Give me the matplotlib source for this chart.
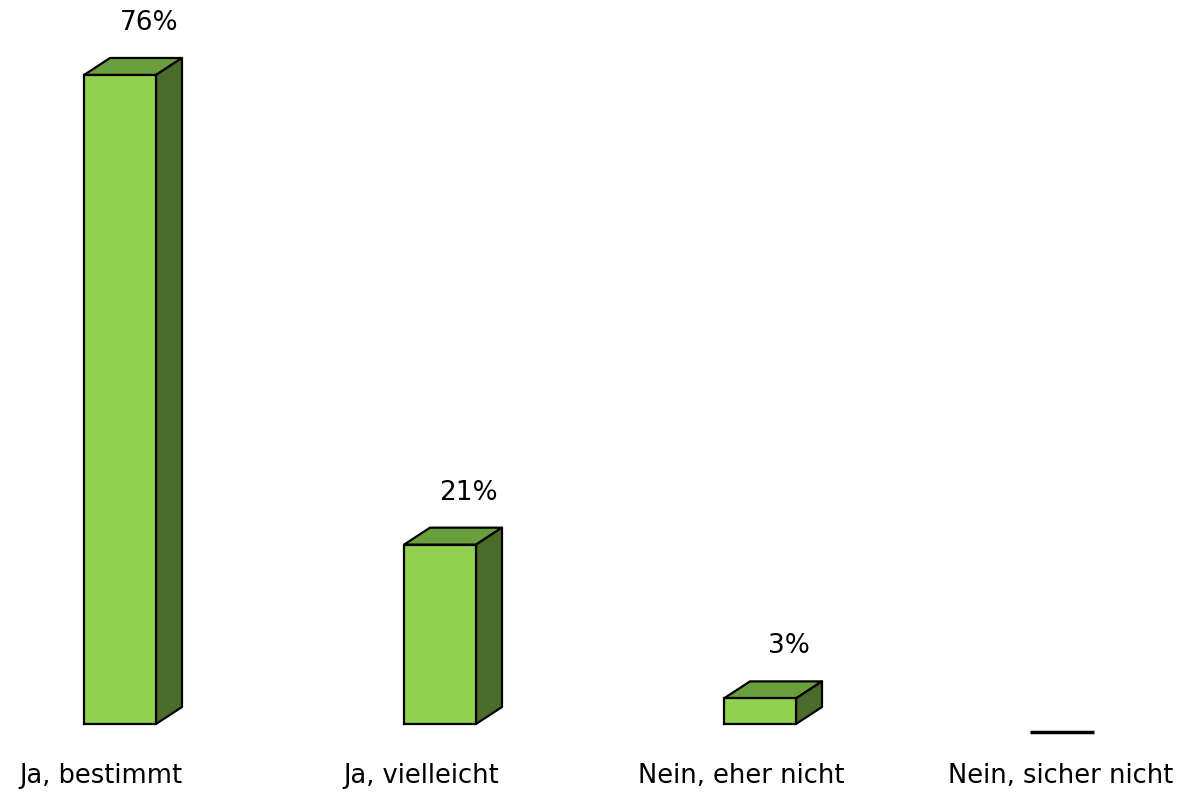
import matplotlib
matplotlib.use("Agg")
import matplotlib.pyplot as plt
from matplotlib.patches import Polygon

categories = ["Ja, bestimmt", "Ja, vielleicht", "Nein, eher nicht", "Nein, sicher nicht"]
values = [76, 21, 3, 0]
value_labels = ["76%", "21%", "3%", ""]

front_col = "#92D050"
top_col = "#6B9E3C"
side_col = "#4B6B2A"

fig = plt.figure(figsize=(11.84, 7.93), dpi=100)
ax = fig.add_axes([0, 0, 1, 1])
ax.set_xlim(-0.375, 3.325)
ax.set_ylim(-8.08, 84.78)
ax.axis("off")

width = 0.225
dx = 0.08125   # depth offset (x)
dy = 1.99      # depth offset (y)

for i, v in enumerate(values):
    left = i - width / 2
    right = i + width / 2
    if v > 0:
        ax.bar(i, v, width=width, color=front_col, edgecolor="black", linewidth=1.6, zorder=3)
        top = Polygon([(left, v), (left + dx, v + dy), (right + dx, v + dy), (right, v)],
                      closed=True, facecolor=top_col, edgecolor="black", linewidth=1.6,
                      joinstyle="round", zorder=2)
        side = Polygon([(right, 0), (right + dx, dy), (right + dx, v + dy), (right, v)],
                       closed=True, facecolor=side_col, edgecolor="black", linewidth=1.6,
                       joinstyle="round", zorder=2)
        ax.add_patch(top)
        ax.add_patch(side)
        ax.text(i + 0.09, v + dy + 4.1, value_labels[i], ha="center", va="center",
                fontsize=19, family="DejaVu Sans", color="black")
    else:
        ax.plot([i - 0.156, i + 0.044], [v - 0.94, v - 0.94], color="black",
                linewidth=2.5, solid_capstyle="butt")
    ax.text(i - 0.06, -6.1, categories[i], ha="center", va="center",
            fontsize=18.5, family="DejaVu Sans", color="black")

fig.savefig("out.png", dpi=100)
